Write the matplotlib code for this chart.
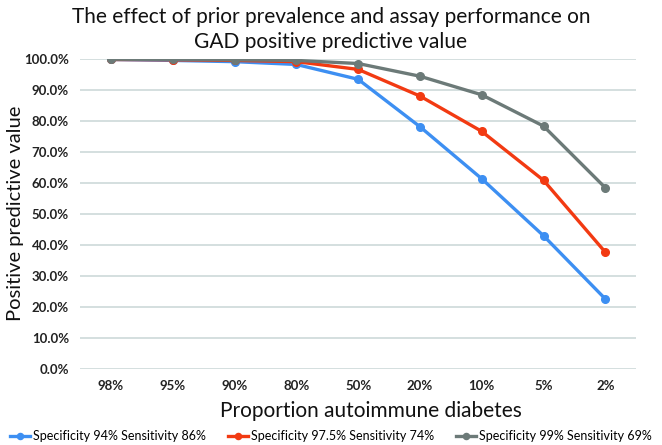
import matplotlib
matplotlib.use("Agg")
import matplotlib.pyplot as plt
from matplotlib.ticker import PercentFormatter

plt.rcParams["font.family"] = ["Lato", "DejaVu Sans"]

categories = ["98%", "95%", "90%", "80%", "50%", "20%", "10%", "5%", "2%"]
ppv_spec94 = [99.9, 99.6, 99.2, 98.3, 93.5, 78.2, 61.4, 43.0, 22.6]
ppv_spec975 = [99.9, 99.8, 99.6, 99.2, 96.7, 88.1, 76.7, 60.9, 37.7]
ppv_spec99 = [100.0, 99.9, 99.8, 99.6, 98.6, 94.5, 88.5, 78.4, 58.5]
labels = ["Specificity 94% Sensitivity 86%",
          "Specificity 97.5% Sensitivity 74%",
          "Specificity 99% Sensitivity 69%"]
colors = ["#3d8ff2", "#f23a12", "#6c7a78"]

fig = plt.figure(figsize=(6.62, 4.45), dpi=100)
ax = fig.add_axes([0.121, 0.171, 0.840, 0.696])

x = range(len(categories))
for vals, lab, col in zip([ppv_spec94, ppv_spec975, ppv_spec99], labels, colors):
    ax.plot(x, vals, color=col, linewidth=2.4, marker="o", markersize=5.5, label=lab, zorder=3)

ax.set_xlim(-0.5, len(categories) - 0.5)
ax.set_ylim(0, 100)
ax.set_yticks(range(0, 101, 10))
ax.yaxis.set_major_formatter(PercentFormatter(decimals=1))
ax.set_xticks(list(x))
ax.set_xticklabels(categories)
ax.grid(axis="y", color="#c9d6d6", linewidth=1.1, zorder=0)
for s in ax.spines.values():
    s.set_visible(False)
ax.tick_params(length=0, labelsize=9.5, colors="#222222", pad=8)
for t in ax.get_xticklabels() + ax.get_yticklabels():
    t.set_fontweight("bold")

fig.text(0.5, 0.962, "The effect of prior prevalence and assay performance on",
         ha="center", va="center", fontsize=15, color="#111111")
fig.text(0.5, 0.905, "GAD positive predictive value",
         ha="center", va="center", fontsize=15, color="#111111")
fig.text(0.024, 0.52, "Positive predictive value", rotation=90,
         ha="center", va="center", fontsize=14.5, color="#111111")
fig.text(0.56, 0.077, "Proportion autoimmune diabetes",
         ha="center", va="center", fontsize=15, color="#111111")

fig.legend(loc="center", bbox_to_anchor=(0.5, 0.02), ncol=3, frameon=False,
           fontsize=9.0, handlelength=1.6, handletextpad=0.2, columnspacing=1.8,
           markerscale=0.8, borderaxespad=0, borderpad=0)

fig.savefig("out.png", dpi=100)
